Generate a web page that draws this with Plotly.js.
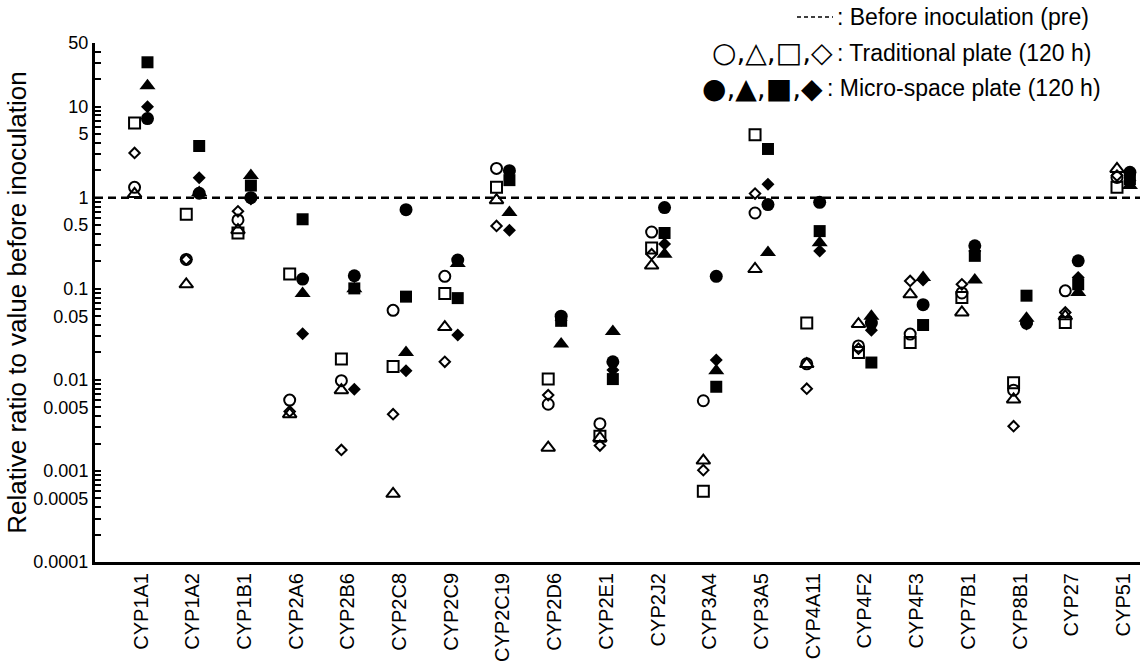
<!DOCTYPE html>
<html>
<head>
<meta charset="utf-8">
<script src="https://cdn.plot.ly/plotly-3.0.1.min.js"></script>
<style>html,body{margin:0;padding:0;background:#fff;}#chart{width:1144px;height:663px;}</style>
</head>
<body>
<div id="chart"></div>
<script>
const categories = ['CYP1A1','CYP1A2','CYP1B1','CYP2A6','CYP2B6','CYP2C8','CYP2C9','CYP2C19','CYP2D6','CYP2E1','CYP2J2','CYP3A4','CYP3A5','CYP4A11','CYP4F2','CYP4F3','CYP7B1','CYP8B1','CYP27','CYP51'];

// Traditional plate (120 h) - open markers
const tradCircle   = [1.3, 0.21, 0.57, 0.006, 0.0098, 0.058, 0.137, 2.1, 0.0054, 0.0033, 0.42, 0.0059, 0.68, 0.015, 0.0236, 0.0318, 0.09, 0.0077, 0.095, 1.67];
const tradTriangle = [1.1, 0.112, 0.44, 0.0042, 0.0077, 0.00056, 0.038, 0.94, 0.0018, 0.0023, 0.18, 0.0013, 0.165, 0.0149, 0.041, 0.087, 0.055, 0.0061, 0.05, 2.07];
const tradSquare   = [6.6, 0.66, 0.41, 0.145, 0.0169, 0.014, 0.089, 1.3, 0.0102, 0.0024, 0.28, 0.0006, 4.9, 0.042, 0.02, 0.0257, 0.08, 0.0093, 0.0427, 1.3];
const tradDiamond  = [3.1, 0.21, 0.71, 0.0045, 0.0017, 0.0042, 0.0158, 0.49, 0.0068, 0.0019, 0.24, 0.00102, 1.11, 0.008, 0.022, 0.122, 0.112, 0.0031, 0.055, 1.75];

// Micro-space plate (120 h) - filled markers
const microCircle   = [7.4, 1.12, 1.0, 0.128, 0.139, 0.74, 0.207, 1.98, 0.05, 0.0158, 0.78, 0.137, 0.84, 0.89, 0.042, 0.067, 0.297, 0.042, 0.203, 1.9];
const microTriangle = [17, 1.14, 1.75, 0.089, 0.1, 0.02, 0.19, 0.69, 0.0247, 0.034, 0.24, 0.0126, 0.25, 0.32, 0.05, 0.133, 0.125, 0.0476, 0.091, 1.36];
const microSquare   = [30.7, 3.7, 1.36, 0.58, 0.101, 0.082, 0.079, 1.56, 0.0445, 0.0102, 0.41, 0.0084, 3.43, 0.43, 0.0155, 0.04, 0.23, 0.084, 0.112, 1.6];
const microDiamond  = [10, 1.66, 0.97, 0.032, 0.0079, 0.0126, 0.031, 0.44, 0.045, 0.0128, 0.31, 0.0165, 1.41, 0.26, 0.035, 0.125, 0.26, 0.041, 0.133, 1.55];

// Baseline (before inoculation)
const preValue = 1;

const yTickVals = [50, 10, 5, 1, 0.5, 0.1, 0.05, 0.01, 0.005, 0.001, 0.0005, 0.0001];
const yTickText = ['50', '10', '5', '1', '0.5', '0.1', '0.05', '0.01', '0.005', '0.001', '0.0005', '0.0001'];

const idx = categories.map((_, i) => i);
const xMin = -0.89, xMax = 19.32;
const OFF = 0.125;
const FONT = 'Liberation Sans, Arial, Helvetica, sans-serif';

function tr(vals, symbol, size, offset, lw) {
  return {
    type: 'scatter', mode: 'markers',
    x: idx.map(i => i + offset), y: vals,
    marker: {symbol: symbol, size: size, color: '#000', line: {color: '#000', width: lw}},
    showlegend: false, hoverinfo: 'y', cliponaxis: false
  };
}

const traces = [
  {type: 'scatter', mode: 'lines', x: [xMin, xMax], y: [preValue, preValue],
   line: {color: '#000', width: 2.5, dash: '8px,5px'}, showlegend: false, hoverinfo: 'skip'},
  tr(tradTriangle, 'triangle-up-open', 12, -OFF, 2),
  tr(tradDiamond, 'diamond-open', 8, -OFF, 2),
  tr(tradCircle, 'circle-open', 11, -OFF, 2),
  tr(tradSquare, 'square-open', 11, -OFF, 2),
  tr(microTriangle, 'triangle-up', 14, OFF, 0),
  tr(microDiamond, 'diamond', 10, OFF, 0),
  tr(microCircle, 'circle', 13, OFF, 0),
  tr(microSquare, 'square', 12, OFF, 0)
];

const minorVals = [];
for (let k = -4; k <= 1; k++) {
  for (let n = 1; n <= 9; n++) {
    const v = n * Math.pow(10, k);
    if (v <= 50.0001) minorVals.push(v);
  }
}

const W = 1144, H = 663, L = 95, R = 4, T = 43, B = 101;
const pw = W - L - R, ph = H - T - B;
const px = x => (x - L) / pw;
const py = y => (H - B - y) / ph;

const layout = {
  width: W, height: H,
  margin: {l: L, r: R, t: T, b: B, pad: 0},
  paper_bgcolor: '#fff', plot_bgcolor: '#fff',
  font: {family: FONT, color: '#000'},
  xaxis: {
    range: [xMin, xMax], tickmode: 'array', tickvals: idx, ticktext: categories,
    tickangle: -90, ticks: '', showgrid: false, zeroline: false,
    showline: true, linecolor: '#000', linewidth: 3,
    tickfont: {family: FONT, size: 20, color: '#000'}
  },
  yaxis: {
    type: 'log', range: [-4, Math.log10(50)],
    tickmode: 'array', tickvals: yTickVals, ticktext: yTickText,
    ticks: 'inside', ticklen: 6, tickwidth: 1.5, tickcolor: '#000',
    minor: {tickmode: 'array', tickvals: minorVals, ticks: 'inside', ticklen: 6, tickwidth: 1.5, tickcolor: '#000', showgrid: false},
    showgrid: false, zeroline: false,
    showline: true, linecolor: '#000', linewidth: 3,
    tickfont: {family: FONT, size: 18, color: '#000'},
    title: {text: 'Relative ratio to value before inoculation', font: {family: FONT, size: 26, color: '#000'}, standoff: 0}
  },
  shapes: [
    {type: 'line', xref: 'paper', yref: 'paper', x0: px(797), x1: px(833), y0: py(17), y1: py(17),
     line: {color: '#000', width: 1.5, dash: '4px,3px'}}
  ],
  annotations: [
    {xref: 'paper', yref: 'paper', x: px(835), y: py(17), xanchor: 'left', yanchor: 'middle', showarrow: false,
     text: ': Before inoculation (pre)', font: {family: FONT, size: 23, color: '#000'}},
    {xref: 'paper', yref: 'paper', x: px(835), y: py(53), xanchor: 'right', yanchor: 'middle', showarrow: false,
     text: '○,△,□,◇', font: {family: 'DejaVu Sans, sans-serif', size: 28, color: '#000'}},
    {xref: 'paper', yref: 'paper', x: px(835), y: py(53), xanchor: 'left', yanchor: 'middle', showarrow: false,
     text: ': Traditional plate (120 h)', font: {family: FONT, size: 23, color: '#000'}},
    {xref: 'paper', yref: 'paper', x: px(825), y: py(88), xanchor: 'right', yanchor: 'middle', showarrow: false,
     text: '●,▲,■,◆', font: {family: 'DejaVu Sans, sans-serif', size: 28, color: '#000'}},
    {xref: 'paper', yref: 'paper', x: px(825), y: py(88), xanchor: 'left', yanchor: 'middle', showarrow: false,
     text: ': Micro-space plate (120 h)', font: {family: FONT, size: 23, color: '#000'}}
  ]
};

Plotly.newPlot('chart', traces, layout, {displayModeBar: false, responsive: false});
</script>
</body>
</html>
